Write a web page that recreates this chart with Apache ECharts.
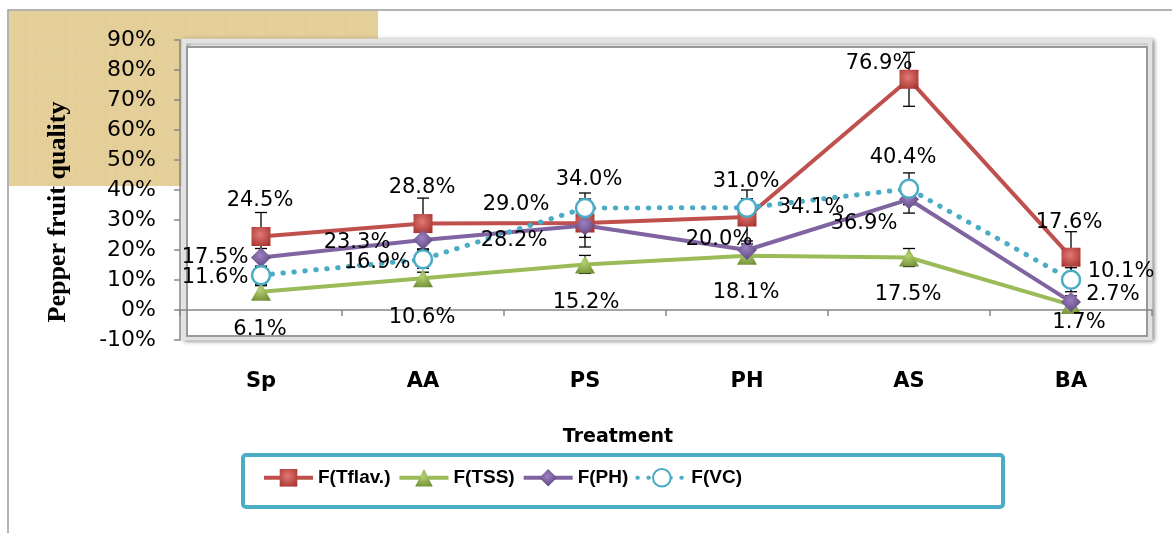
<!DOCTYPE html>
<html>
<head>
<meta charset="utf-8">
<script src="https://cdn.jsdelivr.net/npm/echarts@6/dist/echarts.min.js"></script>
<style>
  html, body { margin: 0; padding: 0; background: #ffffff; }
  #chart { width: 1172px; height: 533px; }
</style>
</head>
<body>
<div id="chart"></div>
<script>
// Treatments along the x axis
const categories = ['Sp', 'AA', 'PS', 'PH', 'AS', 'BA'];

// Series values (percent)
const tflav = [24.5, 28.8, 29.0, 31.0, 76.9, 17.6];
const tss   = [6.1, 10.6, 15.2, 18.1, 17.5, 1.7];
const ph    = [17.5, 23.3, 28.2, 20.0, 36.9, 2.7];
const vc    = [11.6, 16.9, 34.0, 34.1, 40.4, 10.1];

// Error bar half-widths (percent)
const tflavErr = [8, 8.5, 8, 9, 9, 8.5];
const tssErr   = [2, 2, 3, 2, 3, 1];
const phErr    = [3, 3, 4, 3, 4.6, 2];
const vcErr    = [3, 3, 5, 3, 5.3, 4];

// Value axis range
const yMin = -10, yMax = 90, yStep = 10;

// Where each data label sits relative to its marker, [dx, dy] in px
const tflavLabelPos = [[-1, -36], [-1, -36], [-69, -18], [-1, -35], [-30, -16], [-2, -35]];
const tssLabelPos   = [[-1, 38], [-1, 39], [1, 38], [-1, 37], [-1, 37], [8, 18]];
const phLabelPos    = [[-46, 0], [-66, 2], [-71, 15], [-28, -10], [-45, 24], [42, -7]];
const vcLabelPos    = [[-46, 2], [-46, 3], [4, -28], [64, 0], [-6, -31], [50, -8]];

const LABEL_FONT = "'DejaVu Sans', 'Liberation Sans', Arial, sans-serif";

// Parchment-like tile for the upper-left backdrop: fine vertical fibres
function parchmentTile() {
  const w = 70, h = 60;
  const c = document.createElement('canvas');
  c.width = w; c.height = h;
  const g = c.getContext('2d');
  g.fillStyle = '#E7D29C';
  g.fillRect(0, 0, w, h);
  const cols = [0.04, 0.015, 0.055, 0.02, 0.07, 0.03, 0.045, 0.01, 0.06, 0.025];
  for (let i = 0; i < w; i++) {
    g.fillStyle = 'rgba(170,135,75,' + cols[(i * 3) % 10] + ')';
    g.fillRect(i, 0, 1, h);
  }
  const rows = [0.06, 0.02, 0.04, 0.01, 0.07, 0.03];
  for (let j = 0; j < h; j += 3) {
    g.fillStyle = 'rgba(255,250,230,' + rows[(j / 3) % 6] + ')';
    g.fillRect(0, j, w, 1);
  }
  return c;
}

function radial(inner, outer) {
  return {
    type: 'radial', x: 0.45, y: 0.4, r: 0.7,
    colorStops: [{ offset: 0, color: inner }, { offset: 1, color: outer }]
  };
}

function withLabels(values, pos) {
  return values.map((v, i) => ({
    value: v,
    label: { offset: pos[i] }
  }));
}

function lineSeries(name, values, pos, color, extra) {
  return Object.assign({
    name: name,
    type: 'line',
    z: 3,
    data: withLabels(values, pos),
    lineStyle: { color: color, width: 4 },
    label: {
      show: true,
      position: 'inside',
      color: '#000',
      fontSize: 21,
      fontFamily: LABEL_FONT,
      formatter: p => p.value.toFixed(1) + '%'
    },
    emphasis: { disabled: true },
    animation: false
  }, extra);
}

function errorBars(name, values, errs) {
  return {
    type: 'custom',
    name: name + ' error',
    z: 2,
    silent: true,
    animation: false,
    data: values.map((v, i) => [i, v, errs[i]]),
    encode: { x: 0, y: 1 },
    renderItem: function (params, api) {
      const i = api.value(0), v = api.value(1), e = api.value(2);
      const top = api.coord([i, v + e]);
      const bot = api.coord([i, v - e]);
      const hw = 6;
      const st = { stroke: '#000', lineWidth: 1.3 };
      return {
        type: 'group',
        children: [
          { type: 'line', shape: { x1: top[0], y1: top[1], x2: bot[0], y2: bot[1] }, style: st },
          { type: 'line', shape: { x1: top[0] - hw, y1: top[1], x2: top[0] + hw, y2: top[1] }, style: st },
          { type: 'line', shape: { x1: bot[0] - hw, y1: bot[1], x2: bot[0] + hw, y2: bot[1] }, style: st }
        ]
      };
    }
  };
}

const chart = echarts.init(document.getElementById('chart'), null, { renderer: 'canvas' });

const option = {
  backgroundColor: '#ffffff',
  animation: false,
  grid: { left: 180, right: 20, top: 40, bottom: 193, containLabel: false },
  graphic: [
    // outer chart border
    { type: 'rect', z: -20, shape: { x: 8, y: 10, width: 1200, height: 600 },
      style: { fill: '#ffffff', stroke: '#9a9a9a', lineWidth: 1.5 } },
    // parchment backdrop
    { type: 'rect', z: -19, shape: { x: 9, y: 11, width: 369, height: 175 },
      style: { fill: { image: parchmentTile(), repeat: 'repeat' } } },
    // plot area with bevelled frame
    { type: 'rect', z: -18, shape: { x: 184, y: 41, width: 966, height: 297 },
      style: { fill: '#ffffff', stroke: '#e2e2e2', lineWidth: 5,
               shadowBlur: 4, shadowColor: 'rgba(0,0,0,0.4)', shadowOffsetX: 2, shadowOffsetY: 1 } },
    { type: 'rect', z: -17, shape: { x: 187, y: 47, width: 960, height: 289 },
      style: { fill: '#ffffff', stroke: '#999999', lineWidth: 2 } },
    // value axis title
    { type: 'text', z: 5, x: 58, y: 212, rotation: Math.PI / 2,
      style: { text: 'Pepper fruit quality', font: "bold 26px 'Liberation Serif', 'Times New Roman', serif",
               fill: '#000', align: 'center', verticalAlign: 'middle' } },
    // category axis title
    { type: 'text', z: 5, x: 618, y: 437,
      style: { text: 'Treatment', font: "bold 19px 'DejaVu Sans', 'Liberation Sans', sans-serif",
               fill: '#000', align: 'center', verticalAlign: 'middle' } },
    // legend frame
    { type: 'rect', z: -16, shape: { x: 243, y: 455, width: 760, height: 52, r: 3 },
      style: { fill: '#ffffff', stroke: '#4BACC6', lineWidth: 4 } }
  ],
  legend: {
    data: ['F(Tflav.)', 'F(TSS)', 'F(PH)', 'F(VC)'],
    left: 257,
    top: 463,
    itemWidth: 49,
    itemHeight: 22,
    itemGap: 7,
    selectedMode: false,
    lineStyle: { width: 4 },
    textStyle: {
      color: '#000',
      fontSize: 19,
      fontWeight: 'bold',
      fontFamily: "'Liberation Sans', Arial, sans-serif",
      padding: [0, 0, 0, 0]
    }
  },
  xAxis: {
    type: 'category',
    data: categories,
    boundaryGap: true,
    axisLine: { onZero: true, lineStyle: { color: '#868686', width: 1.5 } },
    axisTick: { show: true, length: 6, lineStyle: { color: '#868686', width: 1.5 } },
    axisLabel: {
      margin: 31,
      color: '#000',
      fontSize: 21,
      fontWeight: 'bold',
      fontFamily: LABEL_FONT
    },
    splitLine: { show: false }
  },
  yAxis: {
    type: 'value',
    min: yMin,
    max: yMax,
    interval: yStep,
    axisLine: { show: true, lineStyle: { color: '#868686', width: 1.5 } },
    axisTick: { show: true, length: 6, lineStyle: { color: '#868686', width: 1.5 } },
    axisLabel: {
      margin: 24,
      color: '#000',
      fontSize: 22,
      fontFamily: LABEL_FONT,
      formatter: v => v + '%'
    },
    splitLine: { show: false }
  },
  series: [
    errorBars('F(Tflav.)', tflav, tflavErr),
    errorBars('F(TSS)', tss, tssErr),
    errorBars('F(PH)', ph, phErr),
    errorBars('F(VC)', vc, vcErr),
    lineSeries('F(Tflav.)', tflav, tflavLabelPos, '#C0504D', {
      symbol: 'rect', symbolSize: 19,
      itemStyle: { color: radial('#E07A75', '#A8332F') }
    }),
    lineSeries('F(TSS)', tss, tssLabelPos, '#9BBB59', {
      symbol: 'triangle', symbolSize: [20, 18],
      itemStyle: { color: radial('#B4D070', '#6F8E33') }
    }),
    lineSeries('F(PH)', ph, phLabelPos, '#8064A2', {
      symbol: 'diamond', symbolSize: [20, 20],
      itemStyle: { color: radial('#9C80C0', '#574078') }
    }),
    lineSeries('F(VC)', vc, vcLabelPos, '#4BACC6', {
      symbol: 'circle', symbolSize: 18,
      lineStyle: { color: '#4BACC6', width: 5, type: [0.5, 10.5], cap: 'round' },
      itemStyle: { color: '#ffffff', borderColor: '#4BACC6', borderWidth: 2.5 }
    })
  ]
};

chart.setOption(option);
</script>
</body>
</html>
